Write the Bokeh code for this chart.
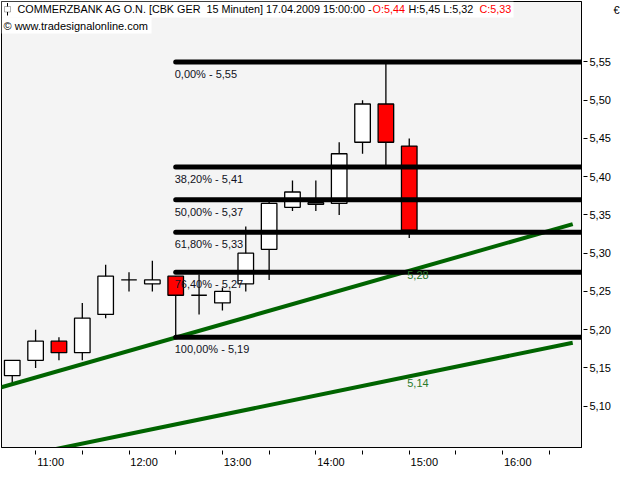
from bokeh.plotting import figure
from bokeh.models import Range1d, LinearAxis, FixedTicker, Label, BoxAnnotation, ColumnDataSource
from bokeh.core.properties import value
from bokeh.embed import file_html
from bokeh.resources import INLINE

# ---------------- data ----------------
bar_times = ["10:45", "11:00", "11:15", "11:30", "11:45", "12:00", "12:15", "12:30", "12:45",
             "13:00", "13:15", "13:30", "13:45", "14:00", "14:15", "14:30", "14:45", "15:00"]
opens  = [5.140, 5.160, 5.185, 5.170, 5.220, 5.265, 5.260, 5.270, 5.245,
          5.235, 5.260, 5.305, 5.360, 5.364, 5.365, 5.445, 5.495, 5.440]
highs  = [5.160, 5.200, 5.190, 5.235, 5.285, 5.275, 5.290, 5.270, 5.272,
          5.255, 5.335, 5.367, 5.395, 5.395, 5.445, 5.500, 5.550, 5.450]
lows   = [5.130, 5.150, 5.160, 5.160, 5.215, 5.250, 5.250, 5.190, 5.220,
          5.225, 5.250, 5.265, 5.355, 5.355, 5.350, 5.430, 5.410, 5.320]
closes = [5.160, 5.185, 5.170, 5.215, 5.270, 5.265, 5.265, 5.245, 5.245,
          5.250, 5.300, 5.365, 5.380, 5.366, 5.430, 5.495, 5.445, 5.330]

fib_start = "12:30"
fib_levels = [5.55, 5.4125, 5.37, 5.3275, 5.275, 5.19]
fib_labels = ["0,00% - 5,55", "38,20% - 5,41", "50,00% - 5,37",
              "61,80% - 5,33", "76,40% - 5,27", "100,00% - 5,19"]

trend1_times = ["10:30", "16:45"]
trend1_values = [5.120, 5.338]
trend2_times = ["10:30", "16:45"]
trend2_values = [5.026, 5.183]
trend_label_time = "15:00"
trend_label_values = [5.28, 5.14]
trend_labels = ["5,28", "5,14"]

x_tick_times = ["11:00", "11:30", "12:00", "12:30", "13:00", "13:30", "14:00",
                "14:30", "15:00", "15:30", "16:00", "16:30"]
hour_ticks = [11, 12, 13, 14, 15, 16]
hour_labels = ["11:00", "12:00", "13:00", "14:00", "15:00", "16:00"]
y_tick_values = [5.10, 5.15, 5.20, 5.25, 5.30, 5.35, 5.40, 5.45, 5.50, 5.55]
y_tick_labels = ["5,10", "5,15", "5,20", "5,25", "5,30", "5,35", "5,40", "5,45", "5,50", "5,55"]

header_main = "COMMERZBANK AG O.N. [CBK GER\u00a0 15 Minuten] 17.04.2009 15:00:00 -"
header_o = "O:5,44"
header_hl = "H:5,45 L:5,32"
header_c = "C:5,33"
copyright_text = "\u00a9 www.tradesignalonline.com"
currency = "\u20ac"

# ---------------- helpers ----------------
def hrs(t):
    hh, mm = t.split(":")
    return int(hh) + int(mm) / 60.0

FONT = "Liberation Sans"
GREEN = "#006400"
RED = "#ff0000"
FW, FH = 580, 446
X0, X1 = 10.635, 16.844
Y0, Y1 = 5.046, 5.629

def sx(px):
    return X0 + px / FW * (X1 - X0)

def sy(py):
    return Y1 - py / FH * (Y1 - Y0)

p = figure(frame_width=FW, frame_height=FH,
           x_range=Range1d(X0, X1), y_range=Range1d(Y0, Y1),
           x_axis_type=None, y_axis_location="right",
           output_backend="svg", toolbar_location=None,
           min_border_left=1, min_border_top=1, min_border_right=4, min_border_bottom=0,
           background_fill_color="#f4f4f4", border_fill_color="white",
           outline_line_color="black", outline_line_width=1)
p.grid.grid_line_color = None

# x axis: tick marks only
tick_x = [hrs(t) for t in x_tick_times]
axA = LinearAxis(ticker=FixedTicker(ticks=tick_x),
                 major_label_overrides={t: "" for t in tick_x},
                 major_label_text_font_size="11px", major_label_standoff=0,
                 major_tick_out=7, major_tick_in=-3, major_tick_line_color="black",
                 minor_tick_out=0, minor_tick_in=0, axis_line_color="black")
p.add_layout(axA, "below")

# x axis: hour labels, placed just right of their tick
LBL_SHIFT = 15.5 / 96.0
p.extra_x_ranges = {"lab": Range1d(X0 - LBL_SHIFT, X1 - LBL_SHIFT)}
axB = LinearAxis(x_range_name="lab", ticker=FixedTicker(ticks=hour_ticks),
                 major_label_overrides=dict(zip(hour_ticks, hour_labels)),
                 major_tick_out=0, major_tick_in=0, minor_tick_out=0, minor_tick_in=0,
                 axis_line_color=None, major_label_standoff=1,
                 major_label_text_font=FONT, major_label_text_font_size="11px",
                 major_label_text_color="black")
p.add_layout(axB, "below")

yax = p.yaxis[0]
yax.ticker = FixedTicker(ticks=y_tick_values)
yax.major_label_overrides = dict(zip(y_tick_values, y_tick_labels))
yax.major_tick_out = 6
yax.major_tick_in = -2
yax.minor_tick_out = 0
yax.minor_tick_in = 0
yax.major_label_standoff = 2
yax.major_label_text_font = FONT
yax.major_label_text_font_size = "11px"
yax.major_label_text_color = "black"
yax.axis_line_color = "black"

# currency sign, top right (an extra right axis holding one label)
cur_y = sy(8)
axC = LinearAxis(ticker=FixedTicker(ticks=[cur_y]),
                 major_label_overrides={cur_y: currency},
                 major_tick_out=0, major_tick_in=0, minor_tick_out=0, minor_tick_in=0,
                 axis_line_color=None, major_label_standoff=0,
                 major_label_text_font=FONT, major_label_text_font_size="11px",
                 major_label_text_color="black")
p.add_layout(axC, "right")

# candles
xs = [hrs(t) for t in bar_times]
src = ColumnDataSource(dict(
    x=xs, high=highs, low=lows,
    top=[max(o, c) for o, c in zip(opens, closes)],
    bottom=[min(o, c) for o, c in zip(opens, closes)],
    color=[RED if c < o else "white" for o, c in zip(opens, closes)],
))
p.segment(x0="x", y0="high", x1="x", y1="low", source=src, line_color="black", line_width=1.3)
p.vbar(x="x", width=10 / 60.0, top="top", bottom="bottom", source=src,
       fill_color="color", line_color="black", line_width=1.3)

# trend lines
p.line([hrs(t) for t in trend1_times], trend1_values, line_color=GREEN, line_width=4)
p.line([hrs(t) for t in trend2_times], trend2_values, line_color=GREEN, line_width=4)

# fibonacci lines
fx = hrs(fib_start)
n = len(fib_levels)
p.segment(x0=[fx] * n, y0=fib_levels, x1=[X1 + 1] * n, y1=fib_levels,
          line_color="black", line_width=5, line_cap="round")
p.text(x=[fx] * n, y=fib_levels, text=fib_labels, text_font=value(FONT),
       text_font_size="11px", text_baseline="top", text_align="left",
       x_offset=-1, y_offset=6, text_color="#111122")

p.text(x=[hrs(trend_label_time)] * 2, y=trend_label_values, text=trend_labels,
       text_font=value(FONT), text_font_size="11px", text_baseline="top",
       text_align="left", x_offset=-2, y_offset=3, text_color="#2a7a2a")

# header
p.add_layout(BoxAnnotation(left=sx(0), right=sx(512), top=sy(0), bottom=sy(16),
                           fill_color="white", fill_alpha=1, line_color=None))
p.add_layout(BoxAnnotation(left=sx(0), right=sx(150), top=sy(16), bottom=sy(32),
                           fill_color="white", fill_alpha=1, line_color=None))
p.add_layout(BoxAnnotation(left=sx(5.5), right=sx(6.5), top=sy(1.5), bottom=sy(14),
                           fill_color="black", fill_alpha=1, line_color=None))
p.add_layout(BoxAnnotation(left=sx(3), right=sx(9), top=sy(5), bottom=sy(10.5),
                           fill_color="white", fill_alpha=1, line_color="black", line_width=1))

HFS = "10.8px"

def add_label(px, py, text, color="black", size=HFS):
    p.add_layout(Label(x=sx(px), y=sy(py), text=text, text_font=FONT,
                       text_font_size=size, text_baseline="middle",
                       text_align="left", text_color=color))

add_label(16, 7.5, header_main)
add_label(371, 7.5, header_o, RED)
add_label(407, 7.5, header_hl)
add_label(478, 7.5, header_c, RED)
add_label(2, 24, copyright_text, size="11px")

open("out.html", "w").write(file_html(p, INLINE))
